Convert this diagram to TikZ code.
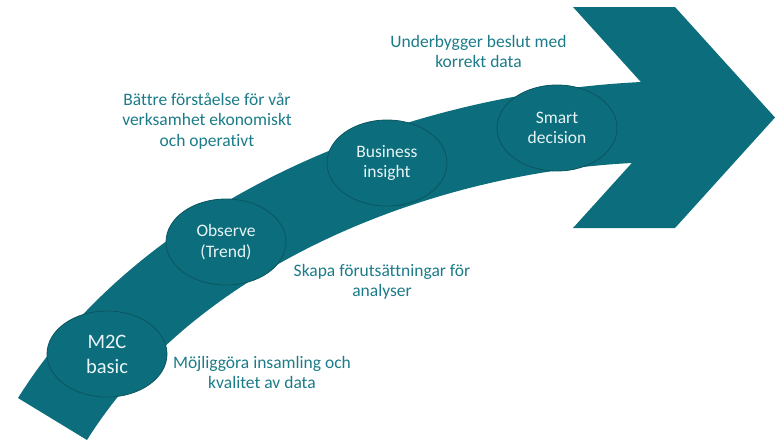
\documentclass[tikz,border=0pt]{standalone}
\usepackage{fontspec}
\setmainfont{Carlito}[Ligatures=NoCommon]
\usetikzlibrary{shapes.geometric}
\definecolor{teal1}{RGB}{12,110,124}
\definecolor{tealedge}{RGB}{10,85,96}
\definecolor{labelc}{RGB}{27,123,136}
\definecolor{ovaltext}{RGB}{232,244,246}
\begin{document}
\begin{tikzpicture}[x=1pt,y=-1pt,
  oval/.style={ellipse,fill=teal1,draw=tealedge,line width=0.8pt,minimum width=120pt,minimum height=86pt,inner sep=0pt,text=ovaltext,font=\fontsize{17.5}{20.5}\selectfont,align=center},
  lbl/.style={text=labelc,font=\fontsize{17.5}{20.5}\selectfont,align=center,anchor=base,inner sep=0pt}]
\useasboundingbox (0,0) rectangle (775,440);
\coordinate (uS) at (18,398);
\coordinate (uE) at (641,82);
\coordinate (lS) at (87,440);
\coordinate (lE) at (632,163);
\coordinate (mid) at (673,117.5);
\fill[teal1] (uS) .. controls (138,206) and (390,94.5) .. (uE) -- (700,82) -- (700,163) -- (lE) .. controls (433,173) and (197,264) .. (lS) -- cycle;
\fill[teal1] (573,7) -- (675,7) -- (775,117.5) -- (675,228) -- (573,228) -- (mid) -- cycle;
\node[oval,font=\fontsize{20.5}{25}\selectfont] (m2c) at (107,354) {M2C\\basic};
\node[oval] (obs) at (226,242) {Observe\\(Trend)};
\node[oval] (bus) at (387,163) {Business\\insight};
\node[oval] (smart) at (557,128) {Smart\\decision};
\node[lbl] (l1) at (478.5,67.5) {Underbygger beslut med\\korrekt data};
\node[lbl] (l2) at (207,146) {Bättre förståelse för vår\\verksamhet ekonomiskt\\och operativt};
\node[lbl] (l3) at (382,296.5) {Skapa förutsättningar för\\analyser};
\node[lbl] (l4) at (262,388.5) {Möjliggöra insamling och\\kvalitet av data};
\end{tikzpicture}
\end{document}
